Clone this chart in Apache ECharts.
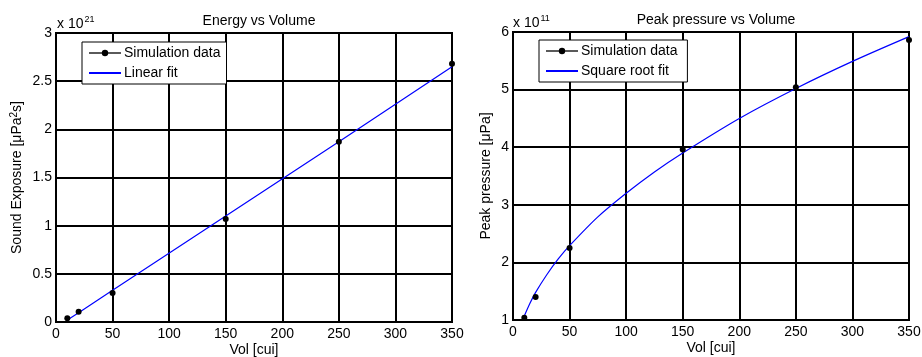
<!DOCTYPE html>
<html>
<head>
    <meta charset="utf-8">
    <title>Energy / Peak pressure vs Volume</title>
    <script src="https://cdn.jsdelivr.net/npm/echarts@6/dist/echarts.min.js"></script>
</head>
<body style="margin:0">
<div id="main" style="width: 922px;height:357px;"></div>
<script type="text/javascript">
    // simulation volumes [cui]
    const volumes = [10, 20, 50, 150, 250, 350];
    // left plot: sound exposure (x 1e21)
    const energySim = [0.04, 0.107, 0.30, 1.07, 1.87, 2.68];
    const energyFitX = [10, 20, 50, 150, 250, 350];
    const energyFit = [0.02, 0.097, 0.33, 1.10, 1.87, 2.65];
    // right plot: peak pressure (x 1e11)
    const pressureSim = [1.04, 1.40, 2.25, 3.96, 5.04, 5.86];
    const pressureFitX = [10, 15, 20, 30, 40, 50, 75, 100, 125, 150, 200, 250, 300, 350];
    const pressureFit = [1.07, 1.29, 1.48, 1.79, 2.06, 2.29, 2.79, 3.20, 3.57, 3.90, 4.50, 5.02, 5.49, 5.92];

    const FONT = 'Liberation Sans';
    const FS = 14;
    const pair = (xs, ys) => xs.map((x, i) => [x, ys[i]]);

    const axisText = { color: '#000', fontFamily: FONT, fontSize: FS };

    function xAxisFor(gi) {
        return {
            gridIndex: gi, type: 'value', min: 0, max: 350, interval: 50,
            name: 'Vol [cui]', nameLocation: 'middle', nameGap: 21, nameMoveOverlap: false,
            nameTextStyle: axisText,
            axisLine: { show: false }, axisTick: { show: false },
            axisLabel: Object.assign({ margin: 5 }, axisText),
            splitLine: { show: true, lineStyle: { color: '#000', width: 2 } }
        };
    }
    function yAxisFor(gi, min, max, interval, name, gap) {
        return {
            gridIndex: gi, type: 'value', min: min, max: max, interval: interval,
            name: name, nameLocation: 'middle', nameGap: gap,
            nameTextStyle: Object.assign({
                rich: { sup: { fontFamily: FONT, fontSize: 10, color: '#000', verticalAlign: 'top', padding: [0, 0, 6, 0] } }
            }, axisText),
            axisLine: { show: false }, axisTick: { show: false },
            axisLabel: Object.assign({ margin: 4 }, axisText),
            splitLine: { show: true, lineStyle: { color: '#000', width: 2 } }
        };
    }
    function legendFor(left, top, simName, fitName) {
        return {
            left: left, top: top, orient: 'vertical',
            backgroundColor: '#fff', borderColor: '#000', borderWidth: 1,
            padding: [4, 6, 4, 6], itemGap: 6, itemWidth: 32, itemHeight: 8,
            textStyle: { color: '#000', fontFamily: FONT, fontSize: FS, padding: [0, 0, 0, -2] },
            data: [
                { name: simName, lineStyle: { opacity: 1, color: '#000', width: 1.3 } },
                { name: fitName, itemStyle: { opacity: 0 } }
            ]
        };
    }
    function exponentLabel(left, top, exp) {
        return { type: 'text', left: left, top: top, style: {
            text: '{b|x 10}{s|' + exp + '}', rich: {
                b: { fontFamily: FONT, fontSize: FS, fill: '#000' },
                s: { fontFamily: FONT, fontSize: 9, fill: '#000', verticalAlign: 'top', padding: [0, 0, 9, 1] }
            } } };
    }

    let myChart = echarts.init(document.getElementById('main'));
    myChart.setOption({
        backgroundColor: '#fff',
        animation: false,
        title: [
            { text: 'Energy vs Volume', left: 254, top: 9, textAlign: 'center',
              textStyle: { color: '#000', fontFamily: FONT, fontSize: FS, fontWeight: 'normal' } },
            { text: 'Peak pressure vs Volume', left: 711, top: 8, textAlign: 'center',
              textStyle: { color: '#000', fontFamily: FONT, fontSize: FS, fontWeight: 'normal' } }
        ],
        grid: [
            { left: 56, right: 470, top: 33, bottom: 35, show: true, borderColor: '#000', borderWidth: 2,
              outerBoundsMode: 'none', containLabel: false },
            { left: 513, right: 13, top: 32, bottom: 37, show: true, borderColor: '#000', borderWidth: 2,
              outerBoundsMode: 'none', containLabel: false }
        ],
        legend: [
            legendFor(82, 42, 'Simulation data', 'Linear fit'),
            legendFor(539, 40, 'Simulation data ', 'Square root fit')
        ],
        xAxis: [xAxisFor(0), xAxisFor(1)],
        yAxis: [
            yAxisFor(0, 0, 3, 0.5, 'Sound Exposure [\u03bcPa{sup|2}s]', 31),
            yAxisFor(1, 1, 6, 1, 'Peak pressure [\u03bcPa]', 20)
        ],
        graphic: [
            exponentLabel(57, 15, '21'),
            exponentLabel(513, 14, '11')
        ],
        series: [
            { name: 'Simulation data', type: 'line', xAxisIndex: 0, yAxisIndex: 0,
              data: pair(volumes, energySim), symbol: 'circle', symbolSize: 6,
              itemStyle: { color: '#000' }, lineStyle: { opacity: 0 }, z: 3 },
            { name: 'Linear fit', type: 'line', xAxisIndex: 0, yAxisIndex: 0,
              data: pair(energyFitX, energyFit), showSymbol: false,
              itemStyle: { color: '#0000ff' }, lineStyle: { color: '#0000ff', width: 1.2 }, z: 2 },
            { name: 'Simulation data ', type: 'line', xAxisIndex: 1, yAxisIndex: 1,
              data: pair(volumes, pressureSim), symbol: 'circle', symbolSize: 6,
              itemStyle: { color: '#000' }, lineStyle: { opacity: 0 }, z: 3 },
            { name: 'Square root fit', type: 'line', xAxisIndex: 1, yAxisIndex: 1,
              data: pair(pressureFitX, pressureFit), showSymbol: false, smooth: 0.3,
              itemStyle: { color: '#0000ff' }, lineStyle: { color: '#0000ff', width: 1.2 }, z: 2 }
        ]
    });
</script>
</body>
</html>
